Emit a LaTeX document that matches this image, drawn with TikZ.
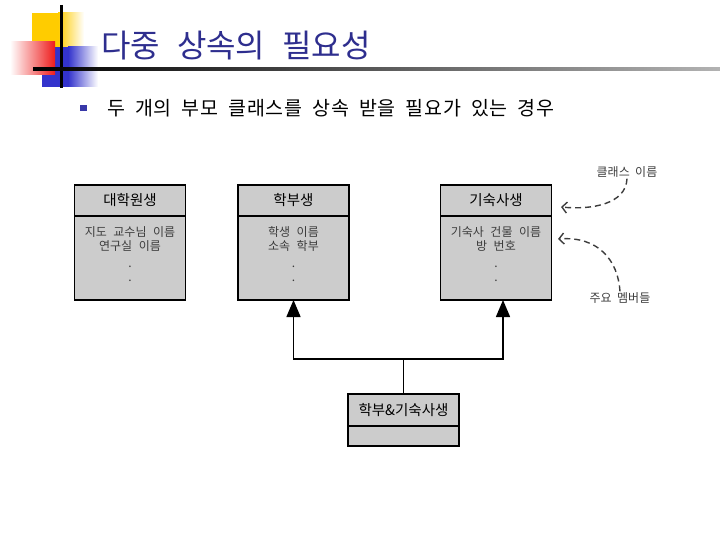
\documentclass[tikz,border=0pt]{standalone}
\usepackage{fontspec}
\setmainfont{Noto Sans CJK KR}
\usetikzlibrary{arrows.meta,positioning,calc}
\definecolor{TitleNavy}{HTML}{2E2E8E}
\definecolor{BoxGray}{HTML}{CCCCCC}
\definecolor{MemberGray}{HTML}{3C3C3C}
\definecolor{SunYellow}{HTML}{FFCC00}
\definecolor{DeckBlue}{HTML}{3333CC}
\definecolor{BulletBlue}{HTML}{3838A8}
\definecolor{DeckRed}{HTML}{EE1C1C}
\newcommand\wordgap[1]{\setlength{\spaceskip}{#1}}
\newcommand\tracking[1]{\addfontfeatures{LetterSpace=#1}}

\begin{document}
\begin{tikzpicture}[
    x=1pt, y=-1pt,
    hdr/.style={draw, fill=BoxGray, line width=1.5pt, outer sep=0pt, inner sep=0pt, minimum width=111pt, minimum height=31pt, font=\fontsize{14.5}{16}\selectfont},
    body/.style={draw, fill=BoxGray, line width=1.5pt, outer sep=0pt, inner sep=0pt, minimum width=111pt, minimum height=84pt, align=center, text=MemberGray, font=\fontsize{12}{13.5}\selectfont\wordgap{6.5pt}},
    note/.style={text=MemberGray, inner sep=1pt, font=\fontsize{12}{14}\selectfont\wordgap{5.4pt}},
    inh/.style={-{Triangle[length=17pt,width=14pt]}, line width=1.5pt},
    ptr/.style={-{Straight Barb[length=5pt,width=11pt]}, dash pattern=on 6pt off 4pt, line width=1.4pt, draw=MemberGray}
]
\useasboundingbox (0,0) rectangle (720,540);
% slide title decoration
\fill[SunYellow] (32,13) rectangle (58,47);
\shade[left color=SunYellow, right color=white] (58,13) rectangle (84,47);
\fill[DeckBlue] (42,47) rectangle (68,87);
\shade[left color=DeckBlue, right color=white] (68,47) rectangle (98,87);
\shade[left color=white, right color=DeckRed] (10,42) rectangle (55,75);
\draw[line width=3pt] (61,5) -- (61,88);
\shade[left color=black, right color=black!30] (33,67.5) rectangle (720,71);
\node[anchor=west, inner sep=0pt, text=TitleNavy, font=\fontsize{32}{36}\selectfont\wordgap{17pt}] (ttl) at (101,46) {다중 상속의 필요성};
\node[fill=BulletBlue, inner sep=0pt, minimum size=6.5pt] (dot) at (83.5,108) {};
\node[right=20pt of dot, inner sep=0pt, font=\fontsize{19.5}{22}\selectfont\tracking{4}\wordgap{10pt}] (sub) {두 개의 부모 클래스를 상속 받을 필요가 있는 경우};
% classes
\node[hdr] (grad) at (130,200.5) {대학원생};
\node[body, below=0pt of grad] (gradm) {지도 교수님 이름\\연구실 이름\\[4pt].\\.\\[-5.5pt]};
\node[hdr] (ug) at (293.5,200.5) {학부생};
\node[body, below=0pt of ug] (ugm) {학생 이름\\소속 학부\\[4pt].\\.\\[-5.5pt]};
\node[hdr] (dorm) at (496,200.5) {기숙사생};
\node[body, below=0pt of dorm] (dormm) {기숙사 건물 이름\\방 번호\\[4pt].\\.\\[-5.5pt]};
\node[hdr, minimum height=32pt] (both) at (403.5,410) {학부\&기숙사생};
\node[body, minimum height=20pt, below=0pt of both] (bothm) {};
% inheritance
\coordinate (join) at (403.5,359);
\draw[line width=1.5pt] (both.north) -- (join);
\draw[inh] (join) -| (ugm.south);
\draw[inh] (join) -| ([xshift=7pt]dormm.south);
% notes
\node[note] (cname) at (627,172) {클래스 이름};
\node[note] (mname) at (620,298) {주요 멤버들};
\coordinate (cptr) at (561,207);
\coordinate (mptr) at (558,239);
\draw[ptr] (cname.south) .. controls (626,204) and (592,210) .. (cptr);
\draw[ptr] (mname.north) .. controls (618,260) and (598,236) .. (mptr);
\end{tikzpicture}
\end{document}
